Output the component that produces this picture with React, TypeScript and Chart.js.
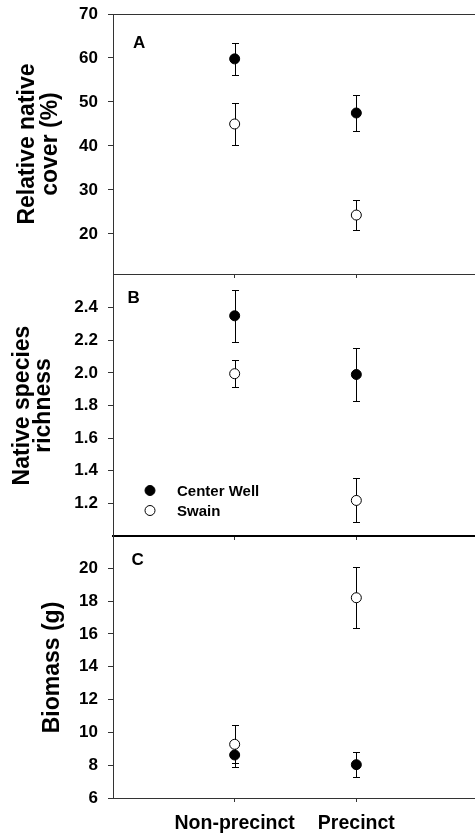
import React, { useEffect, useRef } from "react";
import { Chart, registerables } from "chart.js";

Chart.register(...registerables);

// ---------- data ----------
const CATEGORIES = ["Non-precinct", "Precinct"];
const CATEGORY_X = [1, 2];
const SERIES = ["Center Well", "Swain"];

const COVER_CENTER = [59.8, 47.5];
const COVER_CENTER_ERR = [3.7, 4.0];
const COVER_SWAIN = [45.0, 24.3];
const COVER_SWAIN_ERR = [4.7, 3.5];

const RICH_CENTER = [2.35, 1.99];
const RICH_CENTER_ERR = [0.16, 0.165];
const RICH_SWAIN = [1.995, 1.218];
const RICH_SWAIN_ERR = [0.082, 0.135];

const BIO_CENTER = [8.62, 8.03];
const BIO_CENTER_ERR = [0.75, 0.75];
const BIO_SWAIN = [9.27, 18.2];
const BIO_SWAIN_ERR = [1.15, 1.85];

const COVER_TICKS = [20, 30, 40, 50, 60, 70];
const RICH_TICKS = [1.2, 1.4, 1.6, 1.8, 2.0, 2.2, 2.4];
const BIO_TICKS = [6, 8, 10, 12, 14, 16, 18, 20];

// ---------- styling ----------
const FONT = "'Liberation Sans', Arial, Helvetica, sans-serif";
const AXIS_COLOR = "#333";
const CANVAS_W = 484;
const Y_AXIS_W = 113;

const errorBarPlugin = {
  id: "errorBars",
  beforeDatasetsDraw(chart: any) {
    const ctx = chart.ctx;
    const xs = chart.scales.x;
    const ys = chart.scales.y;
    ctx.save();
    ctx.strokeStyle = "#000";
    ctx.lineWidth = 1;
    chart.data.datasets.forEach((ds: any) => {
      ds.data.forEach((p: any, i: number) => {
        const err = ds.errors[i];
        const x = Math.round(xs.getPixelForValue(p.x)) + 0.5;
        const yT = Math.round(ys.getPixelForValue(p.y + err)) + 0.5;
        const yB = Math.round(ys.getPixelForValue(p.y - err)) + 0.5;
        ctx.beginPath();
        ctx.moveTo(x, yT);
        ctx.lineTo(x, yB);
        ctx.moveTo(x - 3.5, yT);
        ctx.lineTo(x + 3.5, yT);
        ctx.moveTo(x - 3.5, yB);
        ctx.lineTo(x + 3.5, yB);
        ctx.stroke();
      });
    });
    ctx.restore();
  },
};

const decorPlugin = {
  id: "panelDecor",
  afterDraw(chart: any, _args: any, opts: any) {
    const ctx = chart.ctx;
    const a = chart.chartArea;
    ctx.save();
    if (opts.topBorder) {
      ctx.strokeStyle = AXIS_COLOR;
      ctx.lineWidth = 1;
      ctx.beginPath();
      ctx.moveTo(a.left, Math.round(a.top) + 0.5);
      ctx.lineTo(a.right, Math.round(a.top) + 0.5);
      ctx.stroke();
    }
    ctx.fillStyle = "#000";
    ctx.font = `bold 17px ${FONT}`;
    ctx.textAlign = "left";
    ctx.textBaseline = "middle";
    ctx.fillText(opts.letter, a.left + opts.letterDx, a.top + opts.letterDy);
    if (opts.legend) {
      ctx.font = `bold 15px ${FONT}`;
      SERIES.forEach((name, i) => {
        const cy = a.top + opts.legendDy + i * 20;
        const cx = a.left + 37;
        ctx.beginPath();
        ctx.arc(cx, cy, 5, 0, Math.PI * 2);
        ctx.fillStyle = i === 0 ? "#000" : "#fff";
        ctx.fill();
        ctx.strokeStyle = "#000";
        ctx.lineWidth = 1;
        ctx.stroke();
        ctx.fillStyle = "#000";
        ctx.fillText(name, a.left + 64, cy + 1);
      });
    }
    ctx.restore();
  },
};

type PanelProps = {
  top: number;
  height: number;
  padTop: number;
  xHeight: number;
  min: number;
  max: number;
  ticks: number[];
  decimals: number;
  title: string | string[];
  titleLineHeight: number;
  titlePad: number;
  center: number[];
  centerErr: number[];
  swain: number[];
  swainErr: number[];
  showXLabels: boolean;
  bottomBorderWidth: number;
  decor: any;
};

function Panel(p: PanelProps) {
  const ref = useRef<HTMLCanvasElement | null>(null);
  useEffect(() => {
    if (!ref.current) return;
    const tickFont = { family: FONT, size: 17, weight: "bold" as const };
    const chart = new Chart(ref.current, {
      type: "scatter",
      data: {
        datasets: [
          {
            label: SERIES[0],
            data: p.center.map((y, i) => ({ x: CATEGORY_X[i], y })),
            errors: p.centerErr,
            pointRadius: 5,
            pointBackgroundColor: "#000",
            pointBorderColor: "#000",
            pointBorderWidth: 1,
          } as any,
          {
            label: SERIES[1],
            data: p.swain.map((y, i) => ({ x: CATEGORY_X[i], y })),
            errors: p.swainErr,
            pointRadius: 5,
            pointBackgroundColor: "#fff",
            pointBorderColor: "#000",
            pointBorderWidth: 1,
          } as any,
        ],
      },
      options: {
        responsive: false,
        animation: false,
        events: [],
        layout: { padding: { top: p.padTop, left: 0, right: 0, bottom: 0 } },
        plugins: {
          legend: { display: false },
          tooltip: { enabled: false },
          panelDecor: p.decor,
        } as any,
        scales: {
          x: {
            type: "linear",
            min: 0,
            max: 3,
            afterBuildTicks: (s: any) => {
              s.ticks = CATEGORY_X.map((v) => ({ value: v }));
            },
            afterFit: (s: any) => {
              s.height = p.xHeight;
              s.paddingLeft = 0;
              s.paddingRight = 0;
            },
            grid: {
              drawOnChartArea: false,
              tickLength: 4,
              color: AXIS_COLOR,
            },
            border: { color: p.bottomBorderWidth > 1 ? "#000" : AXIS_COLOR, width: p.bottomBorderWidth },
            ticks: {
              display: p.showXLabels,
              padding: 10,
              maxRotation: 0,
              autoSkip: false,
              color: "#000",
              font: { family: FONT, size: 19.5, weight: "bold" },
              callback: (v: any) => {
                const idx = CATEGORY_X.indexOf(Number(v));
                return idx >= 0 ? CATEGORIES[idx] : "";
              },
            },
          },
          y: {
            type: "linear",
            min: p.min,
            max: p.max,
            afterBuildTicks: (s: any) => {
              s.ticks = p.ticks.map((v) => ({ value: v }));
            },
            afterFit: (s: any) => {
              s.width = Y_AXIS_W;
              s.paddingTop = 0;
              s.paddingBottom = 0;
            },
            grid: {
              drawOnChartArea: false,
              tickLength: 5,
              color: AXIS_COLOR,
            },
            border: { color: AXIS_COLOR, width: 1 },
            ticks: {
              padding: 10,
              color: "#000",
              font: tickFont,
              callback: (v: any) => Number(v).toFixed(p.decimals),
            },
            title: {
              display: true,
              text: p.title,
              color: "#000",
              font: { family: FONT, size: 23, weight: "bold", lineHeight: p.titleLineHeight },
              padding: { top: p.titlePad, bottom: 0 },
            },
          },
        },
      } as any,
      plugins: [errorBarPlugin, decorPlugin],
    });
    return () => chart.destroy();
  }, []);
  return (
    <canvas
      ref={ref}
      width={CANVAS_W}
      height={p.height}
      style={{ position: "absolute", left: 0, top: p.top, width: CANVAS_W, height: p.height }}
    />
  );
}

export default function App() {
  return (
    <div
      style={{
        position: "absolute",
        left: 0,
        top: 0,
        width: 475,
        height: 836,
        overflow: "hidden",
        background: "#fff",
      }}
    >
      <Panel
        top={0}
        height={280}
        padTop={14}
        xHeight={5}
        min={10.9}
        max={70}
        ticks={COVER_TICKS}
        decimals={0}
        title={["Relative native", "cover (%)"]}
        titleLineHeight={1.0}
        titlePad={16.5}
        center={COVER_CENTER}
        centerErr={COVER_CENTER_ERR}
        swain={COVER_SWAIN}
        swainErr={COVER_SWAIN_ERR}
        showXLabels={false}
        bottomBorderWidth={1}
        decor={{ letter: "A", letterDx: 20, letterDy: 29, topBorder: true, legend: false }}
      />
      <Panel
        top={265}
        height={277}
        padTop={10}
        xHeight={5}
        min={1.0}
        max={2.6}
        ticks={RICH_TICKS}
        decimals={1}
        title={["Native species", "richness"]}
        titleLineHeight={0.92}
        titlePad={12}
        center={RICH_CENTER}
        centerErr={RICH_CENTER_ERR}
        swain={RICH_SWAIN}
        swainErr={RICH_SWAIN_ERR}
        showXLabels={false}
        bottomBorderWidth={2}
        decor={{ letter: "B", letterDx: 14.5, letterDy: 23.5, topBorder: false, legend: true, legendDy: 215.5 }}
      />
      <Panel
        top={527}
        height={309}
        padTop={10}
        xHeight={38}
        min={6}
        max={21.9}
        ticks={BIO_TICKS}
        decimals={0}
        title={"Biomass (g)"}
        titleLineHeight={1.0}
        titlePad={41}
        center={BIO_CENTER}
        centerErr={BIO_CENTER_ERR}
        swain={BIO_SWAIN}
        swainErr={BIO_SWAIN_ERR}
        showXLabels={true}
        bottomBorderWidth={1}
        decor={{ letter: "C", letterDx: 18.5, letterDy: 23.7, topBorder: false, legend: false }}
      />
    </div>
  );
}
